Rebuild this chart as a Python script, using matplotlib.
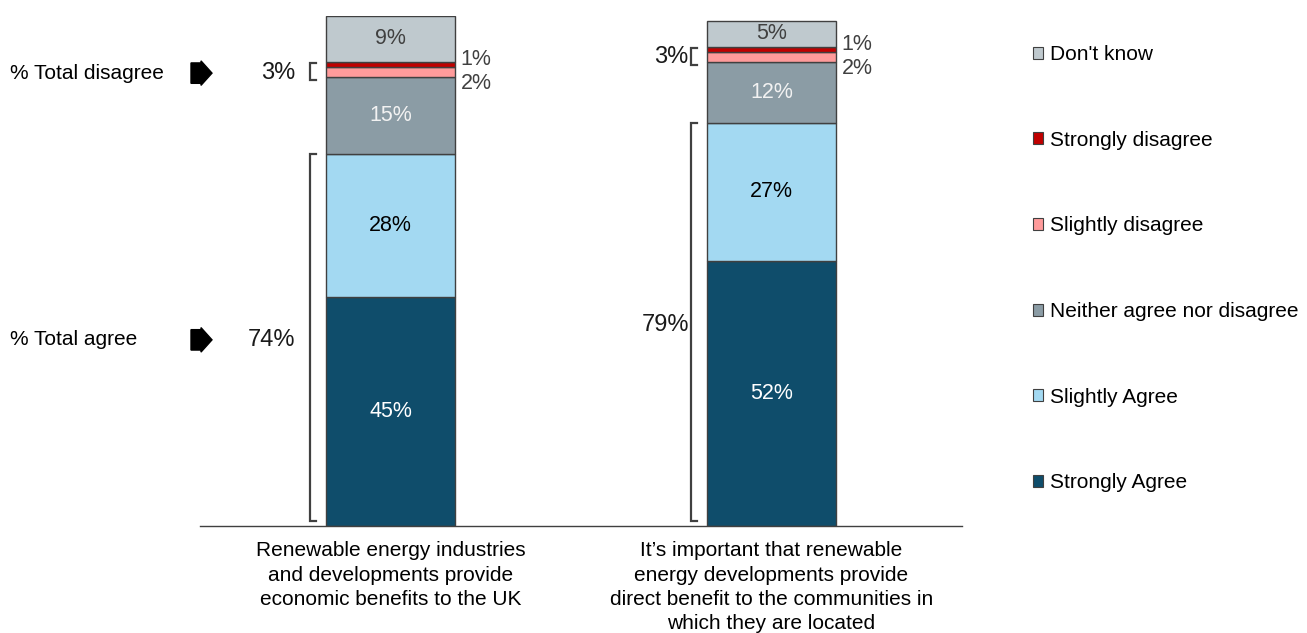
import matplotlib
matplotlib.use("Agg")
import matplotlib.pyplot as plt
import matplotlib.transforms as mtransforms
from matplotlib.patches import Patch, Polygon

plt.rcParams['font.family'] = ['Liberation Sans', 'DejaVu Sans']

# Survey statements (x axis)
statements = [
    "Renewable energy industries\nand developments provide\neconomic benefits to the UK",
    "It\u2019s important that renewable\nenergy developments provide\ndirect benefit to the communities in\nwhich they are located",
]

# Response shares, stacked bottom to top
responses = ["Strongly Agree", "Slightly Agree", "Neither agree nor disagree",
             "Slightly disagree", "Strongly disagree", "Don't know"]
strongly_agree = [45, 52]
slightly_agree = [28, 27]
neither = [15, 12]
slightly_disagree = [2, 2]
strongly_disagree = [1, 1]
dont_know = [9, 5]

# Net figures shown beside the brackets
total_agree = [74, 79]
total_disagree = [3, 3]

colors = ["#0F4D6B", "#A3D9F2", "#8B9CA5", "#FF9B9B", "#C00000", "#BFC9CE"]
label_colors = ["white", "black", "#F2F2F2", "#404040", "#404040", "#404040"]

series = [strongly_agree, slightly_agree, neither,
          slightly_disagree, strongly_disagree, dont_know]

fig = plt.figure(figsize=(13.07, 6.33), dpi=100)
ax = fig.add_axes([200 / 1307, 107 / 633, 762 / 1307, 510 / 633])

x = [0, 1]
width = 0.336
bottoms = [0, 0]
handles = []
for vals, name, col, tcol in zip(series, responses, colors, label_colors):
    ax.bar(x, vals, width, bottom=bottoms, color=col, edgecolor="#404040", linewidth=1.0)
    for i, v in enumerate(vals):
        if name in ("Slightly disagree", "Strongly disagree"):
            # small slices get their label outside, to the right
            if name == "Strongly disagree":
                y = bottoms[i] + v + 0.4
            else:
                y = bottoms[i] - 1.2
            ax.text(x[i] + width / 2 + 0.016, y, f"{v}%", ha="left", va="center",
                    fontsize=15.5, color="#404040")
        else:
            ax.text(x[i], bottoms[i] + v / 2, f"{v}%", ha="center", va="center",
                    fontsize=15.5, color=tcol)
    handles.append(Patch(facecolor=col, edgecolor="#404040", linewidth=0.8, label=name))
    bottoms = [b + v for b, v in zip(bottoms, vals)]

# Brackets with net totals on the left side of each bar
bracket_color = "#404040"
label_gap = [0.04, 0.006]
for i in range(len(x)):
    left = x[i] - width / 2
    bx = left - 0.043
    tick = 0.016
    agree_top = strongly_agree[i] + slightly_agree[i]
    ax.plot([bx + tick, bx, bx, bx + tick], [1, 1, agree_top, agree_top],
            color=bracket_color, lw=1.6, solid_joinstyle="miter")
    ax.text(bx - label_gap[i], agree_top / 2, f"{total_agree[i]}%", ha="right",
            va="center", fontsize=17, color="#1A1A1A")

    lo = agree_top + neither[i]
    hi = lo + slightly_disagree[i] + strongly_disagree[i]
    ax.plot([bx + tick, bx, bx, bx + tick], [lo - 0.55, lo - 0.55, hi - 0.2, hi - 0.2],
            color=bracket_color, lw=1.6, solid_joinstyle="miter")
    ax.text(bx - label_gap[i], (lo + hi) / 2 - 0.6, f"{total_disagree[i]}%", ha="right",
            va="center", fontsize=17, color="#1A1A1A")

# Row captions with block arrows, level with the first bar's brackets
blend = mtransforms.blended_transform_factory(fig.transFigure, ax.transData)
agree_mid = (strongly_agree[0] + slightly_agree[0]) / 2
dis_lo = strongly_agree[0] + slightly_agree[0] + neither[0]
dis_mid = dis_lo + (slightly_disagree[0] + strongly_disagree[0]) / 2 - 0.7
for caption, ym in [("% Total disagree", dis_mid), ("% Total agree", agree_mid)]:
    ax.text(10 / 1307, ym, caption, transform=blend, ha="left", va="center",
            fontsize=15, color="black")
    x0, x1, x2 = 191 / 1307, 201 / 1307, 212 / 1307
    bh, hh = 2.0, 2.4
    arrow = Polygon([(x0, ym - bh), (x1, ym - bh), (x1, ym - hh), (x2, ym),
                     (x1, ym + hh), (x1, ym + bh), (x0, ym + bh)],
                    closed=True, transform=blend, facecolor="black",
                    edgecolor="black", clip_on=False)
    ax.add_patch(arrow)

ax.set_xlim(-0.5, 1.5)
ax.set_ylim(0, 100)
ax.set_xticks(x)
ax.set_xticklabels(statements, fontsize=15, linespacing=1.36)
ax.tick_params(axis="x", length=0, pad=11)
ax.set_yticks([])
for side in ["left", "right", "top"]:
    ax.spines[side].set_visible(False)
ax.spines["bottom"].set_color("#404040")
ax.spines["bottom"].set_linewidth(1.0)

fig.legend(handles=handles[::-1], loc="upper left",
           bbox_to_anchor=(1033 / 1307, 1 - 45 / 633), frameon=False,
           fontsize=15, labelspacing=3.2, handlelength=0.5, handleheight=0.5,
           handletextpad=0.3, borderpad=0, borderaxespad=0)

fig.savefig("out.png", dpi=100, facecolor="white")
